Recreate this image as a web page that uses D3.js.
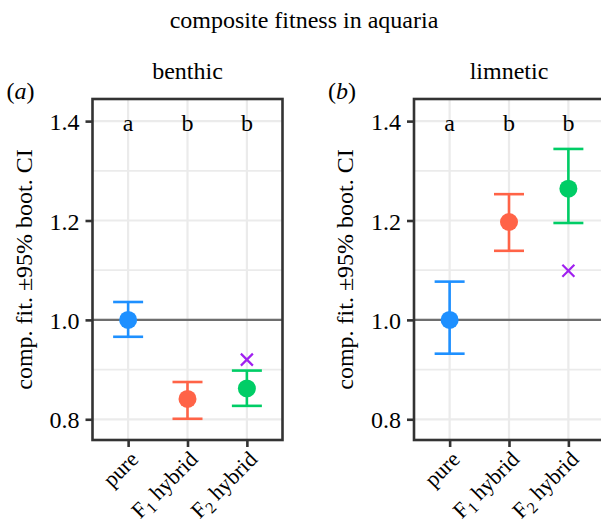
<!DOCTYPE html>
<html>
<head>
<meta charset="utf-8">
<script src="https://cdn.jsdelivr.net/npm/d3@7"></script>
<style>
  body { margin: 0; background: #fff; }
  svg text { font-family: "Liberation Serif", "Times New Roman", Times, "DejaVu Serif", "Noto Serif", serif; fill: #000; }
</style>
</head>
<body>
<div id="chart"></div>
<script>
var categories = ["pure", "F1 hybrid", "F2 hybrid"];
var letters = ["a", "b", "b"];
var yTicks = [0.8, 1.0, 1.2, 1.4];
var yMinor = [0.9, 1.1, 1.3];

var benthicMean = [1.0, 0.841, 0.862];
var benthicLo = [0.966, 0.801, 0.827];
var benthicHi = [1.036, 0.875, 0.898];
var benthicCross = [null, null, 0.92];

var limneticMean = [1.0, 1.197, 1.264];
var limneticLo = [0.932, 1.139, 1.195];
var limneticHi = [1.077, 1.253, 1.344];
var limneticCross = [null, null, 1.099];

var colours = ["#1E90FF", "#FF6347", "#00CD66"];

function init() {
    var w = 601, h = 527;
    var top = 99, bottom = 440, panelW = 190;

    var svg = d3.select("#chart")
                .append("svg")
                .attr("width", w)
                .attr("height", h);

    svg.append("text")
        .attr("x", 304).attr("y", 28)
        .attr("text-anchor", "middle")
        .attr("font-size", "24px")
        .text("composite fitness in aquaria");

    var y = d3.scaleLinear().domain([0.7583, 1.4445]).range([bottom, top]);

    function panel(left, title, tag, mean, lo, hi, cross) {
        var x = d3.scalePoint().domain(categories).range([left, left + panelW]).padding(0.6);
        var g = svg.append("g");

        // grid
        g.selectAll(".minor").data(yMinor).enter().append("line")
            .attr("x1", left).attr("x2", left + panelW)
            .attr("y1", d => y(d)).attr("y2", d => y(d))
            .attr("stroke", "#ebebeb").attr("stroke-width", 1.8);
        g.selectAll(".major").data(yTicks).enter().append("line")
            .attr("x1", left).attr("x2", left + panelW)
            .attr("y1", d => y(d)).attr("y2", d => y(d))
            .attr("stroke", "#ebebeb").attr("stroke-width", 2.2);
        g.selectAll(".vgrid").data(categories).enter().append("line")
            .attr("x1", d => x(d)).attr("x2", d => x(d))
            .attr("y1", top).attr("y2", bottom)
            .attr("stroke", "#ebebeb").attr("stroke-width", 2.2);

        // reference line at 1
        g.append("line")
            .attr("x1", left).attr("x2", left + panelW)
            .attr("y1", y(1)).attr("y2", y(1))
            .attr("stroke", "#6e6e6e").attr("stroke-width", 2.2);

        // error bars
        var idx = d3.range(categories.length);
        var eb = g.selectAll(".eb").data(idx).enter().append("g");
        eb.append("line")
            .attr("x1", i => x(categories[i])).attr("x2", i => x(categories[i]))
            .attr("y1", i => y(lo[i])).attr("y2", i => y(hi[i]))
            .attr("stroke", i => colours[i]).attr("stroke-width", 2.6);
        eb.append("line")
            .attr("x1", i => x(categories[i]) - 15).attr("x2", i => x(categories[i]) + 15)
            .attr("y1", i => y(lo[i])).attr("y2", i => y(lo[i]))
            .attr("stroke", i => colours[i]).attr("stroke-width", 2.6);
        eb.append("line")
            .attr("x1", i => x(categories[i]) - 15).attr("x2", i => x(categories[i]) + 15)
            .attr("y1", i => y(hi[i])).attr("y2", i => y(hi[i]))
            .attr("stroke", i => colours[i]).attr("stroke-width", 2.6);
        eb.append("circle")
            .attr("cx", i => x(categories[i])).attr("cy", i => y(mean[i]))
            .attr("r", 9).attr("fill", i => colours[i]);

        // crosses
        g.selectAll(".cross").data(idx.filter(i => cross[i] != null)).enter().append("path")
            .attr("transform", i => "translate(" + x(categories[i]) + "," + y(cross[i]) + ")")
            .attr("d", "M-6,-6L6,6M-6,6L6,-6")
            .attr("stroke", "#A020F0").attr("stroke-width", 2.2);

        // letters
        g.selectAll(".letter").data(idx).enter().append("text")
            .attr("x", i => x(categories[i])).attr("y", y(1.4) + 10)
            .attr("text-anchor", "middle").attr("font-size", "24px")
            .text(i => letters[i]);

        // border
        g.append("rect")
            .attr("x", left).attr("y", top)
            .attr("width", panelW).attr("height", bottom - top)
            .attr("fill", "none").attr("stroke", "#333").attr("stroke-width", 2.6);

        // y axis
        var yAxis = g.append("g")
            .attr("transform", "translate(" + left + ",0)")
            .call(d3.axisLeft(y).tickValues(yTicks).tickFormat(d3.format(".1f")).tickSize(7).tickPadding(6));
        yAxis.attr("font-family", null);
        yAxis.select(".domain").remove();
        yAxis.selectAll(".tick line").attr("stroke", "#333").attr("stroke-width", 2.6);
        yAxis.selectAll(".tick text").attr("font-size", "24px")
            .attr("fill", "#000").attr("dy", "0.36em");

        // x axis
        var xAxis = g.append("g")
            .attr("transform", "translate(0," + bottom + ")")
            .call(d3.axisBottom(x).tickSize(7).tickFormat(""));
        xAxis.select(".domain").remove();
        xAxis.selectAll(".tick line").attr("stroke", "#333").attr("stroke-width", 2.6);

        var lab = g.selectAll(".xlab").data(categories).enter().append("text")
            .attr("transform", d => "translate(" + (x(d) + 1) + "," + (bottom + 10) + ") rotate(-45)")
            .attr("text-anchor", "end").attr("font-size", "22px").attr("dy", "0.68em");
        lab.each(function(d) {
            var t = d3.select(this);
            if (d.charAt(0) === "F") {
                t.append("tspan").text("F");
                t.append("tspan").attr("font-size", "16px").attr("baseline-shift", "-30%").text(d.charAt(1));
                t.append("tspan").text(d.slice(2));
            } else {
                t.text(d);
            }
        });

        // strip title and tag
        svg.append("text")
            .attr("x", left + panelW / 2).attr("y", 79)
            .attr("text-anchor", "middle").attr("font-size", "24px")
            .text(title);
        var tg = svg.append("text").attr("x", left - 86).attr("y", 99).attr("font-size", "24px");
        tg.append("tspan").text("(");
        tg.append("tspan").attr("font-style", "italic").text(tag);
        tg.append("tspan").text(")");

        // y axis title
        svg.append("text")
            .attr("transform", "translate(" + (left - 61) + "," + ((top + bottom) / 2) + ") rotate(-90)")
            .attr("text-anchor", "middle").attr("font-size", "24px")
            .text("comp. fit. \u00b195% boot. CI");
    }

    panel(92.5, "benthic", "a", benthicMean, benthicLo, benthicHi, benthicCross);
    panel(414, "limnetic", "b", limneticMean, limneticLo, limneticHi, limneticCross);
}
window.onload = init;
</script>
</body>
</html>
